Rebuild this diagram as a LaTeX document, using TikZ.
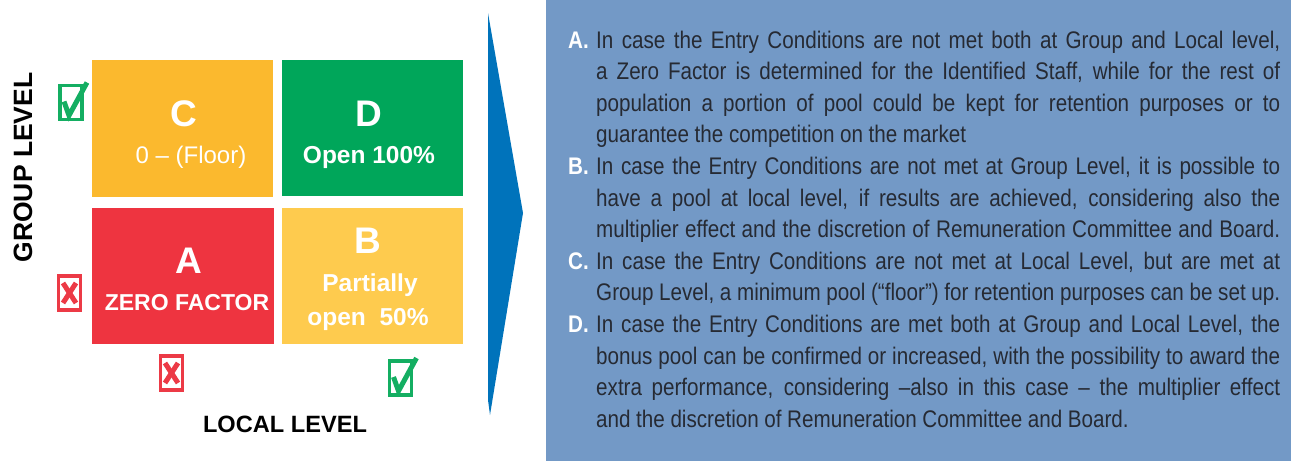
\documentclass[tikz,border=0pt]{standalone}
\usepackage{fontspec}
\setmainfont{Liberation Sans}
\newfontfamily\condfont[FakeStretch=0.86]{Liberation Sans}
\definecolor{cyel}{HTML}{FBB92E}
\definecolor{byel}{HTML}{FECB4E}
\definecolor{dgreen}{HTML}{00A65A}
\definecolor{ared}{HTML}{EE3440}
\definecolor{chkgreen}{HTML}{14AE62}
\definecolor{xred}{HTML}{EC3A46}
\definecolor{arrowblue}{HTML}{0073BB}
\definecolor{panelblue}{HTML}{7399C6}
\definecolor{textdark}{HTML}{262A33}
\tikzset{
  bigletter/.style={text=white, font=\fontsize{37}{40}\selectfont\bfseries, inner sep=0pt},
  subtext/.style={text=white, font=\fontsize{24.5}{29}\selectfont\bfseries, inner sep=0pt, align=center},
  axislabel/.style={text=black, font=\fontsize{24}{28}\selectfont\bfseries, inner sep=0pt},
  chkbox/.style={draw=chkgreen, line width=3.5pt, minimum width=22pt, minimum height=34pt, inner sep=0pt},
  xbox/.style={draw=xred, line width=3.5pt, minimum width=22pt, minimum height=34pt, inner sep=0pt},
}
\newcommand{\lbl}[1]{\makebox[28pt][l]{\textcolor{white}{\bfseries #1}}}
\begin{document}
\begin{tikzpicture}[x=1pt,y=-1pt]
\useasboundingbox (0,0) rectangle (1291,461);
% quadrants
\node[fill=cyel, minimum width=181pt, minimum height=137pt, inner sep=0pt] (qC) at (182,128.5) {};
\node[fill=dgreen, minimum width=181pt, minimum height=136pt, inner sep=0pt] (qD) at (372,128) {};
\node[fill=ared, minimum width=182pt, minimum height=136pt, inner sep=0pt] (qA) at (183,275.5) {};
\node[fill=byel, minimum width=181pt, minimum height=136pt, inner sep=0pt] (qB) at (372,275.5) {};
% quadrant texts
\node[bigletter] (tC) at (184,114) {C};
\node[subtext, font=\fontsize{24}{29}\selectfont] (sC) at (191,157) {0 – (Floor)};
\node[bigletter] (tD) at (369,114) {D};
\node[subtext] (sD) at (369,157) {Open 100\%};
\node[bigletter] (tA) at (189,261) {A};
\node[subtext, font=\fontsize{23}{29}\selectfont\bfseries] (sA) at (187,303) {ZERO FACTOR};
\node[bigletter] (tB) at (368,241) {B};
\node[subtext] (sB1) at (370,285) {Partially};
\node[subtext] (sB2) at (368,319) {open\ \ 50\%};
% axis labels
\node[axislabel, font=\fontsize{26.5}{30}\selectfont\bfseries, rotate=90] (gl) at (23,167.5) {GROUP LEVEL};
\node[axislabel, font=\fontsize{23.6}{28}\selectfont\bfseries] (ll) at (285,424.5) {LOCAL LEVEL};
% check boxes
\node[chkbox] (g1) at (71,102.5) {};
\draw[chkgreen, line width=5pt, line join=miter] ([shift={(-7,-1)}]g1.center) -- ([shift={(-2,13)}]g1.center) -- ([shift={(16,-20)}]g1.center);
\node[xbox] (r1) at (69.5,293) {};
\draw[xred, line width=5pt] ([shift={(-6.5,-10)}]r1.center) -- ([shift={(6.5,10)}]r1.center);
\draw[xred, line width=5pt] ([shift={(6.5,-10)}]r1.center) -- ([shift={(-6.5,10)}]r1.center);
\node[xbox] (r2) at (171.5,373) {};
\draw[xred, line width=5pt] ([shift={(-6.5,-10)}]r2.center) -- ([shift={(6.5,10)}]r2.center);
\draw[xred, line width=5pt] ([shift={(6.5,-10)}]r2.center) -- ([shift={(-6.5,10)}]r2.center);
\node[chkbox] (g2) at (400.5,378) {};
\draw[chkgreen, line width=5pt, line join=miter] ([shift={(-7,-1)}]g2.center) -- ([shift={(-2,13)}]g2.center) -- ([shift={(16,-20)}]g2.center);
% arrow
\fill[arrowblue] (488,13) -- (523,213) -- (490,415) -- (488,400) -- cycle;
% panel
\fill[panelblue] (546,0) rectangle (1291,461);
\node[anchor=north west, inner sep=0pt, text width=712pt, align=justify, text=textdark,
      font=\condfont\fontsize{24}{31.6}\selectfont] (desc) at (568,30.5) {%
\fontdimen2\font=5.6pt \fontdimen3\font=8pt \fontdimen4\font=2.5pt
\hyphenpenalty=10000 \parindent=0pt \parskip=0pt
\hangindent=28pt \hangafter=1 \lbl{A.}In case the Entry Conditions are not met both at Group and Local level,\linebreak
a Zero Factor is determined for the Identified Staff, while for the rest of\linebreak
population a portion of pool could be kept for retention purposes or to\linebreak
guarantee the competition on the market\par
{\parfillskip=0pt \hangindent=28pt \hangafter=1 \lbl{B.}In case the Entry Conditions are not met at Group Level, it is possible to\linebreak
have a pool at local level, if results are achieved, considering also the\linebreak
multiplier effect and the discretion of Remuneration Committee and Board.\par}
{\parfillskip=0pt \hangindent=28pt \hangafter=1 \lbl{C.}In case the Entry Conditions are not met at Local Level, but are met at\linebreak
Group Level, a minimum pool (“floor”) for retention purposes can be set up.\par}
\hangindent=28pt \hangafter=1 \lbl{D.}In case the Entry Conditions are met both at Group and Local Level, the\linebreak
bonus pool can be confirmed or increased, with the possibility to award the\linebreak
extra performance, considering –also in this case – the multiplier effect\linebreak
and the discretion of Remuneration Committee and Board.\par};
\end{tikzpicture}
\end{document}
